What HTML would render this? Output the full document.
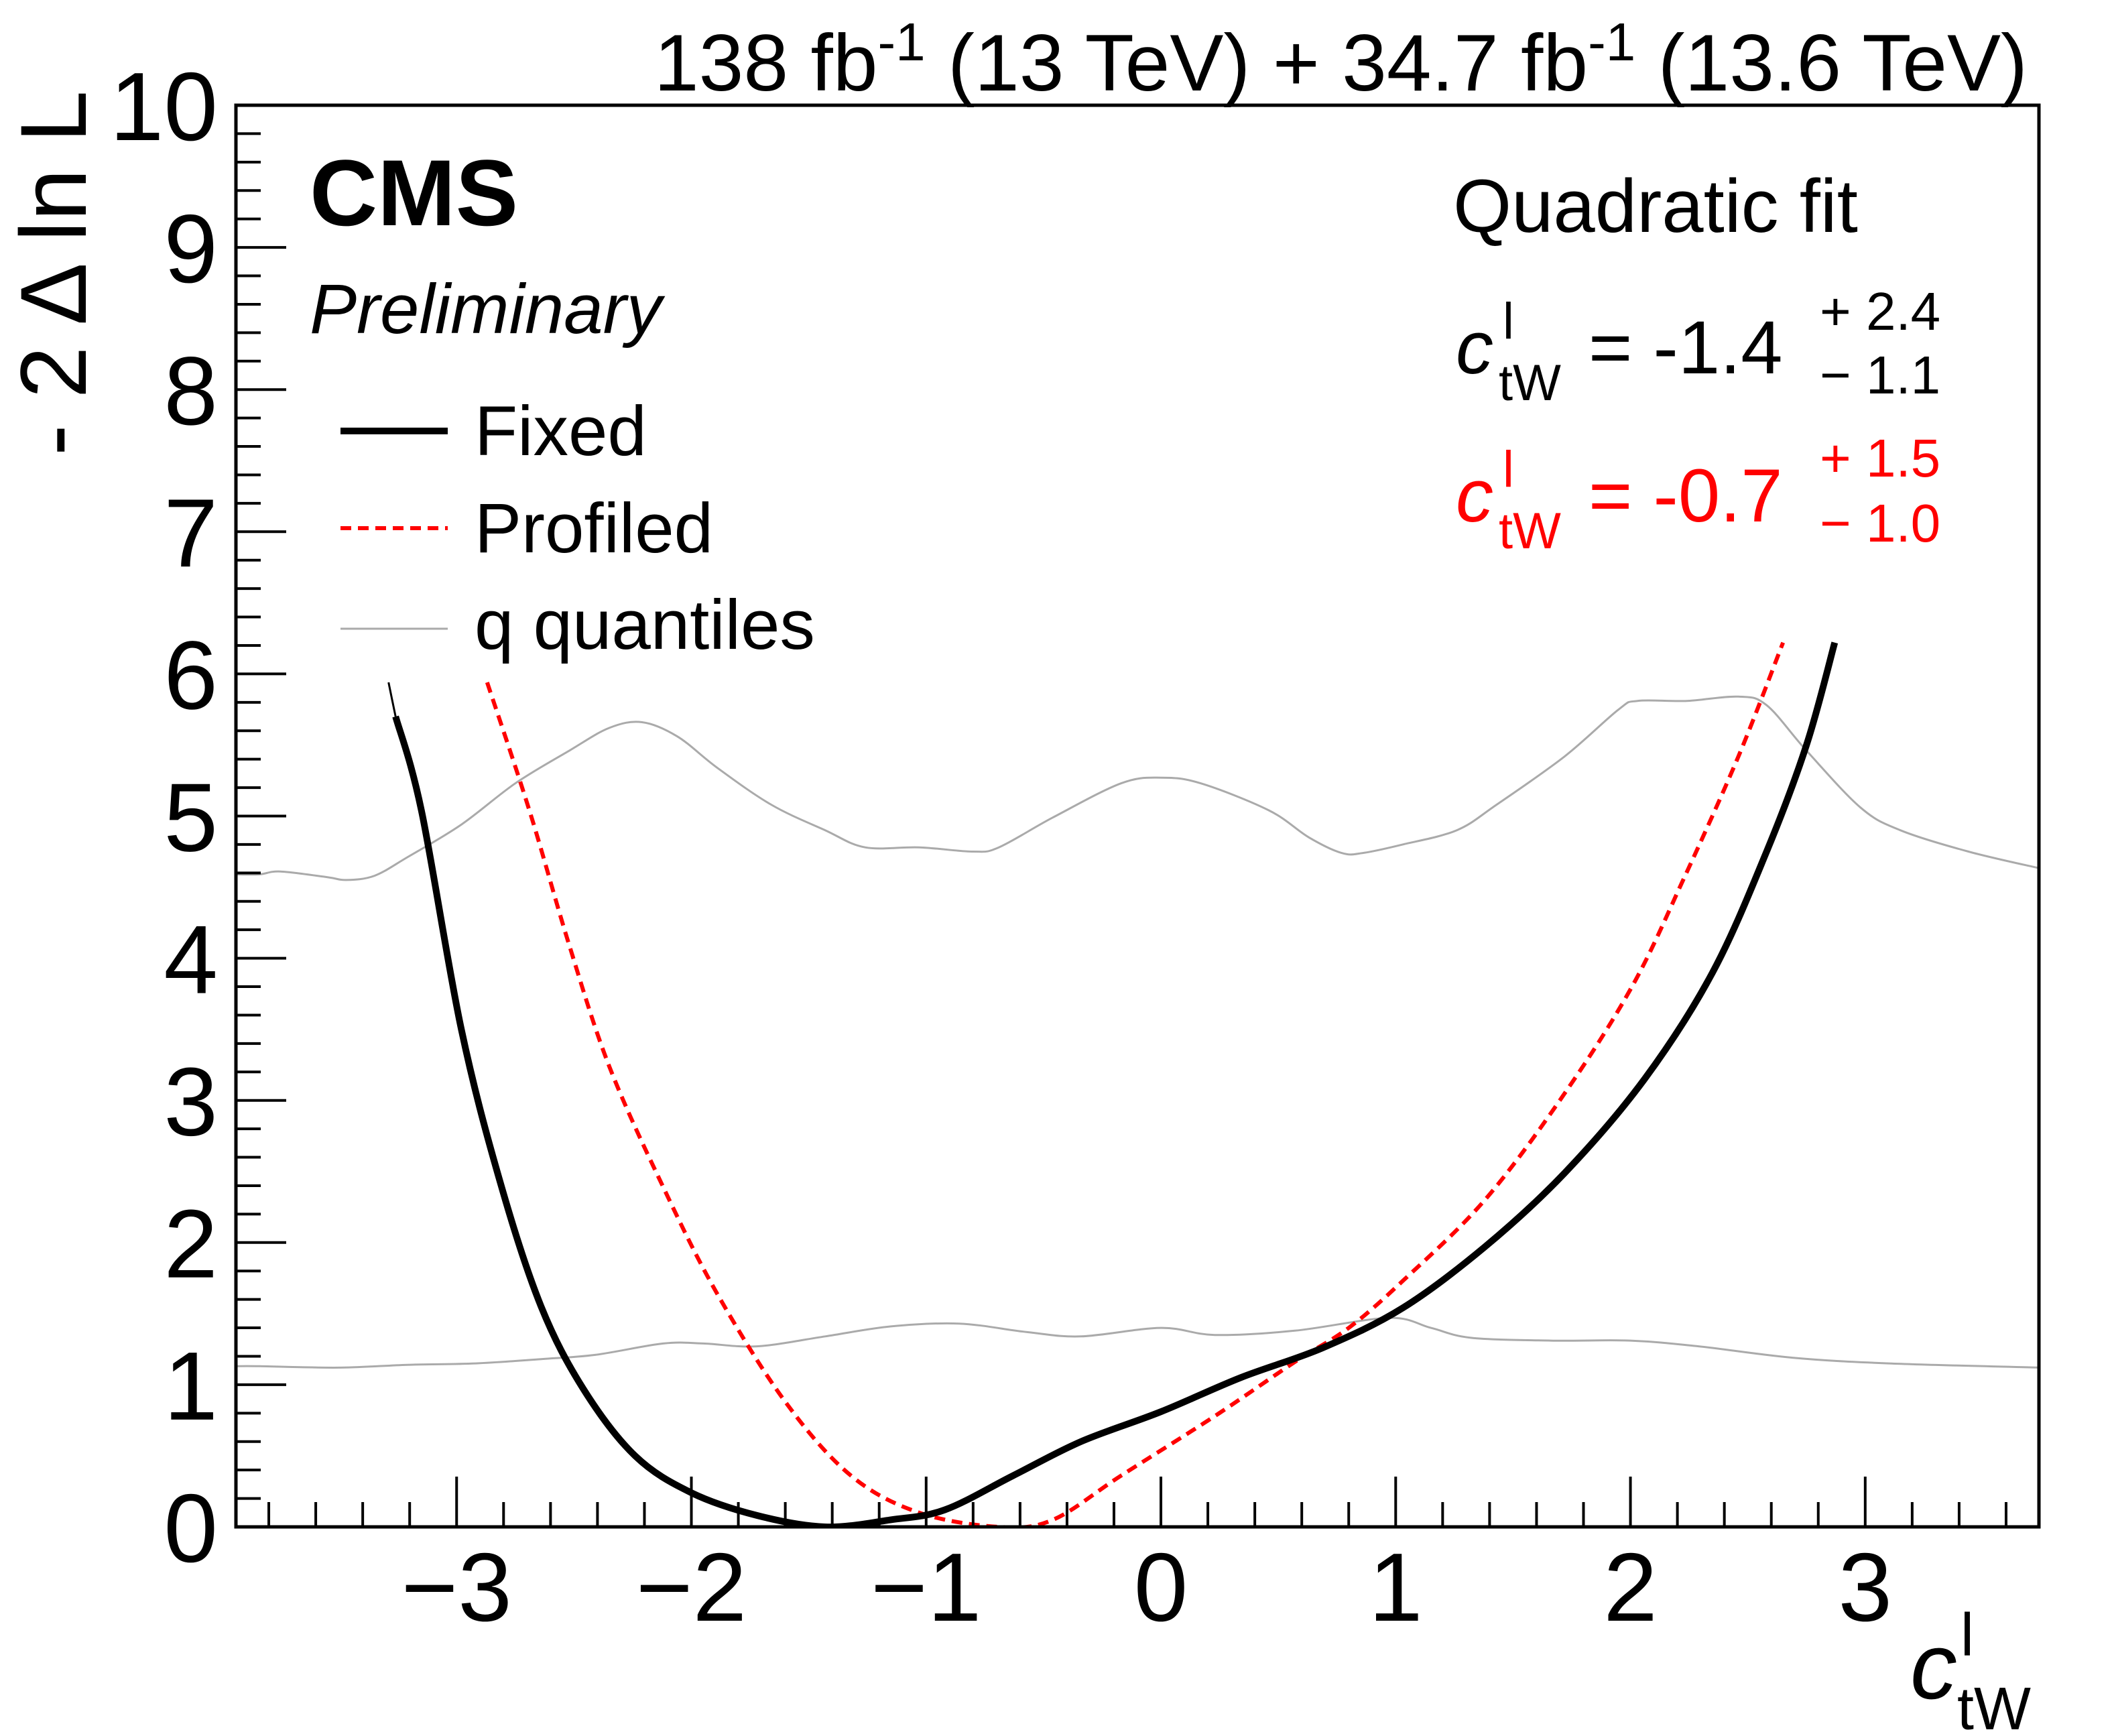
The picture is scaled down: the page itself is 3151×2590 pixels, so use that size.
<!DOCTYPE html>
<html><head><meta charset="utf-8"><style>
html,body{margin:0;padding:0;background:#fff}
svg{display:block}
text{font-family:"Liberation Sans",sans-serif}
</style></head><body>
<svg id="chart" width="3151" height="2590" viewBox="0 0 3151 2590" xmlns="http://www.w3.org/2000/svg">
<defs><clipPath id="plotclip"><rect x="352" y="157" width="2690" height="2121"/></clipPath></defs>
<g id="marks" clip-path="url(#plotclip)"></g>
<g id="axes"></g>
<text x="3025" y="135" font-size="120" text-anchor="end">138 fb<tspan dy="-45" font-size="80">-1</tspan><tspan dy="45"> (13 TeV) + 34.7 fb</tspan><tspan dy="-45" font-size="80">-1</tspan><tspan dy="45"> (13.6 TeV)</tspan></text>
<text x="462" y="336" font-size="140" font-weight="bold">CMS</text>
<text x="462" y="497" font-size="105" font-style="italic">Preliminary</text>
<text transform="translate(128,135) rotate(-90)" font-size="140" text-anchor="end">- 2 Δ ln L</text>
<g>
<text x="2850" y="2534" font-size="140" font-style="italic">c</text>
<text x="2925" y="2470" font-size="90">l</text>
<text x="2920" y="2580" font-size="90">tW</text>
</g>
<g>
<line x1="508" y1="643" x2="668" y2="643" stroke="#000" stroke-width="10"/>
<text x="708" y="679" font-size="105">Fixed</text>
<line x1="508" y1="788" x2="668" y2="788" stroke="#f00" stroke-width="6" stroke-dasharray="16,10"/>
<text x="708" y="824" font-size="105">Profiled</text>
<line x1="508" y1="938" x2="668" y2="938" stroke="#aaa" stroke-width="3"/>
<text x="708" y="968" font-size="105">q quantiles</text>
</g>
<text x="2168" y="346" font-size="112">Quadratic fit</text>
<g fill="#000">
<text x="2172" y="557" font-size="112" font-style="italic">c</text>
<text x="2242" y="505" font-size="76">l</text>
<text x="2236" y="597" font-size="76">tW</text>
<text x="2370" y="557" font-size="112">= -1.4</text>
<text x="2715" y="492" font-size="80">+ 2.4</text>
<text x="2715" y="587" font-size="80">− 1.1</text>
</g>
<g fill="#f00">
<text x="2172" y="778" font-size="112" font-style="italic">c</text>
<text x="2242" y="726" font-size="76">l</text>
<text x="2236" y="818" font-size="76">tW</text>
<text x="2370" y="778" font-size="112">= -0.7</text>
<text x="2715" y="711" font-size="80">+ 1.5</text>
<text x="2715" y="808" font-size="80">− 1.0</text>
</g>
</svg>
<script>
const fixedX=[-3.26,-3.15,-2.98,-2.81,-2.64,-2.46,-2.24,-2.0,-1.72,-1.43,-1.15,-0.92,-0.63,-0.34,0,0.34,0.69,1.03,1.38,1.72,2.06,2.35,2.58,2.75,2.87];
const fixedY=[5.7,5.04,3.5,2.4,1.55,0.97,0.5,0.24,0.08,0.0,0.05,0.12,0.36,0.6,0.81,1.05,1.26,1.54,1.97,2.49,3.15,3.9,4.75,5.5,6.22];
const profX=[-2.87,-2.69,-2.52,-2.35,-2.12,-1.89,-1.6,-1.32,-1.03,-0.69,-0.46,-0.17,0.23,0.57,0.8,1.03,1.38,1.72,2.01,2.23,2.46,2.65];
const profY=[5.94,5.04,4.09,3.24,2.39,1.64,0.88,0.36,0.1,0,0.05,0.36,0.78,1.16,1.4,1.73,2.3,3.05,3.81,4.57,5.42,6.22];
const qHiX=[-3.94,-3.84,-3.75,-3.55,-3.47,-3.35,-3.21,-2.98,-2.75,-2.52,-2.35,-2.21,-2.06,-1.89,-1.66,-1.43,-1.26,-1.03,-0.8,-0.69,-0.46,-0.17,0,0.17,0.46,0.63,0.77,0.86,1.03,1.26,1.43,1.72,1.95,2.03,2.24,2.46,2.58,2.75,2.98,3.15,3.44,3.75];
const qHiY=[4.59,4.59,4.61,4.57,4.55,4.58,4.71,4.94,5.23,5.46,5.62,5.66,5.56,5.34,5.08,4.9,4.78,4.78,4.75,4.78,4.99,5.23,5.27,5.23,5.04,4.85,4.74,4.74,4.8,4.9,5.08,5.42,5.75,5.81,5.81,5.84,5.78,5.46,5.06,4.9,4.75,4.63];
const qLoX=[-3.94,-3.84,-3.5,-3.21,-2.92,-2.64,-2.41,-2.12,-1.95,-1.72,-1.43,-1.15,-0.86,-0.57,-0.34,0,0.23,0.57,0.97,1.15,1.32,1.66,2.0,2.29,2.69,3.1,3.75];
const qLoY=[1.13,1.13,1.12,1.14,1.15,1.18,1.21,1.29,1.29,1.27,1.34,1.41,1.43,1.37,1.34,1.4,1.35,1.38,1.47,1.4,1.33,1.31,1.31,1.27,1.19,1.15,1.12];
const xTicks=[-3,-2,-1,0,1,2,3];
const xTickLabels=["−3","−2","−1","0","1","2","3"];
const yTicks=[0,1,2,3,4,5,6,7,8,9,10];
const yTickLabels=["0","1","2","3","4","5","6","7","8","9","10"];

const X0=352,X1=3042,Y0=2278,Y1=157,XMIN=-3.94,XMAX=3.74,YMIN=0,YMAX=10;
const sx=v=>X0+(v-XMIN)/(XMAX-XMIN)*(X1-X0);
const sy=v=>Y0-(v-YMIN)/(YMAX-YMIN)*(Y0-Y1);
const NS="http://www.w3.org/2000/svg";
const marks=document.getElementById('marks'), axes=document.getElementById('axes'), svg=document.getElementById('chart');

function smoothD(xs,ys){
  const P=xs.map((x,i)=>[sx(x),sy(ys[i])]);
  let d='M'+P[0][0].toFixed(1)+' '+P[0][1].toFixed(1);
  for(let i=0;i<P.length-1;i++){
    const p0=P[Math.max(0,i-1)],p1=P[i],p2=P[i+1],p3=P[Math.min(P.length-1,i+2)];
    const c1=[p1[0]+(p2[0]-p0[0])/6,p1[1]+(p2[1]-p0[1])/6];
    const c2=[p2[0]-(p3[0]-p1[0])/6,p2[1]-(p3[1]-p1[1])/6];
    d+=' C'+c1[0].toFixed(1)+' '+c1[1].toFixed(1)+' '+c2[0].toFixed(1)+' '+c2[1].toFixed(1)+' '+p2[0].toFixed(1)+' '+p2[1].toFixed(1);
  }
  return d;
}
function path(xs,ys,stroke,w,dash,name){
  const p=document.createElementNS(NS,'path');
  p.setAttribute('d',smoothD(xs,ys));
  p.setAttribute('fill','none');p.setAttribute('stroke',stroke);p.setAttribute('stroke-width',w);
  p.setAttribute('stroke-linejoin','round');
  if(dash)p.setAttribute('stroke-dasharray',dash);
  
  
  marks.appendChild(p);
}
path(qHiX,qHiY,'#aaa',3,null,'quantile-upper-line');
path(qLoX,qLoY,'#aaa',3,null,'quantile-lower-line');
path(profX,profY,'#f00',6,'16,10','profiled-curve');
path(fixedX,fixedY,'#000',10,null,'fixed-curve');
path([-3.29,fixedX[0]],[5.94,fixedY[0]],'#000',3,null,'fixed-curve-tail');

function line(x1,y1,x2,y2,w,name){
  const l=document.createElementNS(NS,'line');
  l.setAttribute('x1',x1);l.setAttribute('y1',y1);l.setAttribute('x2',x2);l.setAttribute('y2',y2);
  l.setAttribute('stroke','#000');l.setAttribute('stroke-width',w);
  
  
  axes.appendChild(l);
}
const frame=document.createElementNS(NS,'rect');
frame.setAttribute('x',X0);frame.setAttribute('y',Y1);frame.setAttribute('width',X1-X0);frame.setAttribute('height',Y0-Y1);
frame.setAttribute('fill','none');frame.setAttribute('stroke','#000');frame.setAttribute('stroke-width',5);


axes.appendChild(frame);
for(let k=Math.ceil(XMIN*5);k<=Math.floor(XMAX*5);k++){
  const v=k/5, major=(k%5===0), len=major?75:37, x=sx(v);
  line(x,Y0,x,Y0-len,4,major?'x-major-tick':'x-minor-tick');
}
for(let k=Math.ceil(YMIN*5);k<=YMAX*5;k++){
  const v=k/5, major=(k%5===0), len=major?75:37, y=sy(v);
  line(X0,y,X0+len,y,4,major?'y-major-tick':'y-minor-tick');
}
xTicks.forEach((v,i)=>{
  const t=document.createElementNS(NS,'text');
  t.setAttribute('x',sx(v));t.setAttribute('y',2418);t.setAttribute('font-size',145);t.setAttribute('text-anchor','middle');
  t.textContent=xTickLabels[i];
  
  
  svg.appendChild(t);
});
yTicks.forEach((v,i)=>{
  const t=document.createElementNS(NS,'text');
  t.setAttribute('x',325);t.setAttribute('y',sy(v)+52);t.setAttribute('font-size',145);t.setAttribute('text-anchor','end');
  t.textContent=yTickLabels[i];
  
  
  svg.appendChild(t);
});
</script>
</body></html>
